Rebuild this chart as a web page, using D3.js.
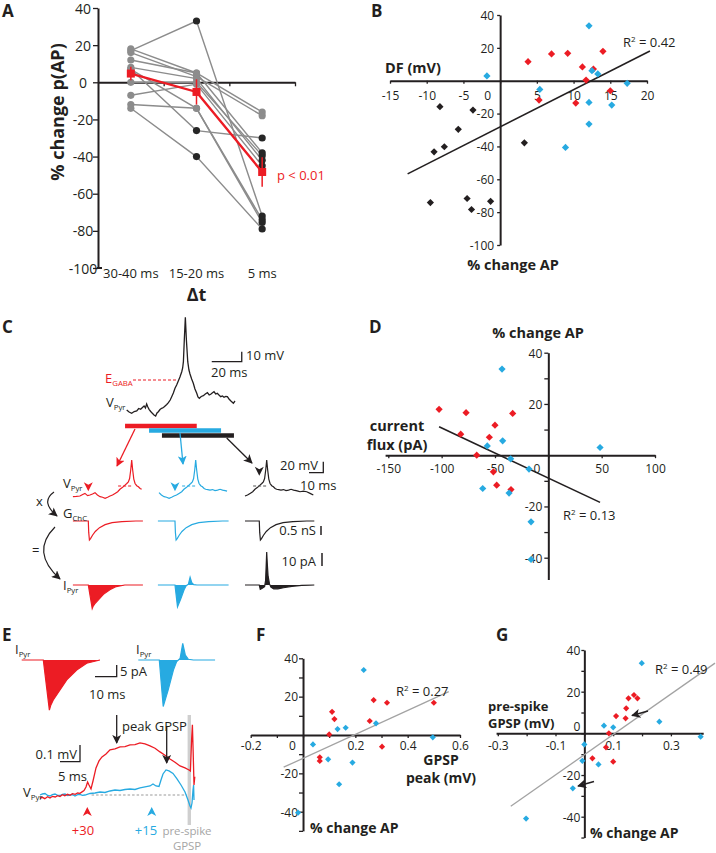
<!DOCTYPE html>
<html><head><meta charset="utf-8">
<script src="https://cdn.jsdelivr.net/npm/d3@7"></script>
<style>
body{margin:0;background:#fff;}
svg{font-family:"Open Sans",sans-serif;}
</style></head><body>
<svg id="fig" width="716" height="853"></svg>
<script>
const RED="#ec1c24", BLUE="#27aae1", INK="#231f20", GRAY="#8c8c8c";
const FONT='"Open Sans", sans-serif';

// ---------- Panel A data ----------
const aCategories=["30-40 ms","15-20 ms","5 ms"];
const aYTicks=[-100,-80,-60,-40,-20,0,20,40];
const aCells=[[17,33,-72],[18,5,-16],[16,3,-18],[12,5,-38],[8,2,-42],[7,-14,-74],[7,-26,-30],[0,0,-39.5],[-7,-1,-45],[-12,-14,-75.5],[-14,-40,-79]];
const aDark=[[0,1,1],[0,0,0],[0,0,0],[0,0,1],[0,0,1],[0,0,1],[0,1,1],[0,0,1],[0,0,1],[0,0,1],[0,1,1]];
const aMean=[4.7,-5.2,-48.3];
const aErr=[3.6,6.8,8];

// ---------- Panel B data (DF mV, % change AP) ----------
const bBlack=[[-8.2,-15.8],[-3.7,-17.9],[-5.7,-29.6],[-9,-43.3],[-7.6,-40.2],[3.3,-37.8],[-9.5,-74.2],[-4.5,-71.7],[-3.9,-78.4],[-1.3,-73.4]];
const bRed=[[3.8,11.6],[7,16.3],[9.2,16.7],[14,17.9],[11.2,8.4],[12.7,7.1],[11.7,0.4],[5.3,-11.8],[10.3,-13.6],[15,-6.1]];
const bBlue=[[-1.8,2.9],[12.1,33.4],[12.5,6.1],[13.3,4.1],[17.3,-1.6],[5.4,-5.3],[12.1,-13.2],[15.2,-14.8],[12.1,-26.4],[8.9,-40.6]];
const bFit=[[-12.6,-56.7],[20.4,18.1]];
const bXTicks=[-15,-10,-5,0,5,10,15,20], bYTicks=[-100,-80,-60,-40,-20,20,40];

// ---------- Panel D data (current flux pA, % change AP) ----------
const dRed=[[-102.4,17.9],[-77.1,16.6],[-33.4,16.3],[-50,11.7],[-82.1,8.2],[-55.3,7],[-67.1,0],[-51.5,-6.5],[-48.4,-11.7],[-35,-13.4]];
const dBlue=[[-43.4,33.6],[-57.2,3.6],[-42.8,5.6],[-35.3,-1.4],[-18.1,-5.4],[48.5,3],[-61.5,-13],[-36.8,-14.8],[-16.2,-26],[-16.2,-40.7]];
const dFit=[[-102.4,11.1],[48.5,-18.4]];
const dXTicks=[-150,-100,-50,0,50,100], dYTicks=[-40,-30,-20,-10,10,20,30,40];

// ---------- Panel F data (GPSP peak mV, % change AP) ----------
const fRed=[[0.111,12.1],[0.12,8.3],[0.1,0.3],[0.27,18.2],[0.321,16.8],[0.5,16.8],[0.255,7.3],[0.302,-6.1],[0.064,-11.6],[0.064,-13.5]];
const fBlue=[[0.232,33.9],[0.132,3.1],[0.163,3.8],[0.279,6.1],[0.496,-1.2],[0.038,-4.9],[0.096,-12.7],[0.189,-14.4],[0.138,-25.7],[-0.019,-40.5]];
const fFit=[[-0.074,-16.8],[0.557,22.6]];
const fXTicks=[-0.2,-0.1,0,0.1,0.2,0.3,0.4,0.5,0.6], fYTicks=[-50,-40,-30,-20,-10,10,20,30,40];

// ---------- Panel G data (pre-spike GPSP mV, % change AP) ----------
const gRed=[[0.153,16.8],[0.172,18.4],[0.184,16.8],[0.145,12],[0.143,7.2],[0.11,8.3],[0.085,0],[0.075,-6.7],[0.028,-12],[0.1,-13.6]];
const gBlue=[[0.199,33.7],[0.068,3.7],[0.1,2.9],[0.26,5.6],[0.403,-1.6],[0,-5.3],[-0.007,-13.2],[0.049,-14.9],[-0.04,-26.4],[-0.202,-40.9]];
const gFit=[[-0.255,-35],[0.453,33.7]];
const gXTicks=[-0.3,-0.2,-0.1,0,0.1,0.2,0.3,0.4], gYTicks=[-50,-40,-30,-20,-10,0,10,20,30,40];

// ---------- Panel C traces ----------
const cTopT=[0,1.6,3.3,5,6.7,8,9.3,10.5,11.6,12.5,13.3,14.1,14.9,16,17.1,18.2,19.3,20.2,21.1,22.2,23.3,24.5,25.6,26.7,27.8,29,30,31.1,32.2,33.3,34.4,35.5,36.7,37.3,37.8,38.4,39.1,39.8,40.7,41.5,42.2,43.3,44.4,45.5,46.7,47.5,48.4,49.7,51.1,52.4,53.8,55,56,57,58.2,59.3,60.4,61.5,62.7,63.8,64.9,66,67.1,68.2,69.3,70.2,71.1,72.2];
const cTopV=[0,-2,-3.3,-1.5,-1,1.5,0.7,2.5,4,2,6,3,0.7,-1.5,-3.3,-5,-6,-3,-1.7,0.5,1.7,2.5,4,5.5,7.3,10,13.3,17,21.7,25,29,33,38.3,42,48.3,70,92.7,70,48.3,40,36,31,26.7,21,16.7,13,11.7,13.5,14.3,16,17.3,15,15.7,17,18.3,16,16.7,15,13.3,14,12.7,13.5,13.3,11,9.3,8,6.7,9];
const cGabaV=30;
const cWindows=[{c:RED,t0:-1.1,t1:46.7},{c:BLUE,t0:14.9,t1:62.9},{c:INK,t0:23.5,t1:71.5}];
const cMini=[[-42,0],[-39.5,0.5],[-37,1.2],[-35,4],[-33.4,6],[-31.5,2],[-29.8,3],[-28,5],[-26.2,7.3],[-24.5,3],[-22.6,0],[-20.8,-1],[-19,-3],[-17.2,-1],[-15.5,1.2],[-13.7,3],[-11.9,6],[-10,9],[-8.4,13.5],[-6.5,17],[-4.8,21],[-3.5,24],[-2.4,27],[-1.5,33],[-0.7,48.5],[0,66.7],[0.7,48.5],[1.5,32],[2.4,24],[3.6,20],[4.8,18],[6,15],[7.1,13.5],[8.6,13],[10.2,12],[12,13],[13.8,11],[15.6,12],[17.4,13.5],[19.2,12],[21,11],[22.4,10],[23.8,9],[26.2,10],[28.6,9],[31,6],[33.3,3],[35,4]];
const cMiniWin=[{c:RED,t0:-42,t1:8,onset:-31},{c:BLUE,t0:-27,t1:23.5,onset:-14.8},{c:INK,t0:-15.5,t1:34,onset:-5.3}];
const cG=[[0,0],[0.3,-0.6],[0.8,-1],[1.6,-0.93],[3,-0.75],[5,-0.55],[8,-0.35],[12,-0.19],[17,-0.09],[24,-0.03],[34,0],[70,0]];
const iRed=[[0,0],[2.8,-21.4],[3.5,-19.2],[4.6,-17.1],[7.7,-12.8],[10.8,-8.5],[15.4,-4.3],[20,-1.4],[26.1,0]];
const iBlue=[[0,0],[1.8,-19.9],[4.1,-12.8],[6.5,-4.3],[8,-0.7],[9.6,0.7],[10.8,7.1],[12,2.1],[13.4,0.3],[15.7,0],[25.7,0]];
const iBlackC=[[-15.5,0],[-5.3,0],[-4.6,-4],[-3.2,-3],[-1.5,-1.5],[-0.8,4],[-0.3,20],[0,30],[0.4,20],[1,8],[2,1],[3,-2],[5,-3.5],[8,-3.5],[12,-2.5],[18,-1.2],[25,-0.4],[34,0]];

// ---------- Panel E traces (ms, µV) ----------
const eRedT=[0,0.6,1.2,1.9,2.5,3.1,3.8,4.4,5,5.6,6.2,6.9,7.5,8.1,8.8,9.4,10,10.6,11,11.5,11.9,12.25,12.75,13.25,14,14.75,15.5,16.5,17.5,18.75,20,21.25,22.5,23.75,25,26.25,27.5,28.75,30,31.25,32.5,33.75,35,36.25,37.25,37.6,37.9,38.1,38.3,38.5,38.7];
const eRedV=[-20,-14,-22,-10,-18,-8,-12,-4,-9,2,-4,4,-2,8,4,12,10,20,26,48,78,60,36,84,162,204,228,246,270,276,288,290,300,302,312,306,294,280,258,238,216,196,174,162,150,144,330,420,250,60,110];
const eBlueT=[0,0.6,1.25,1.9,2.5,3.1,3.75,4.4,5,5.6,6.25,6.9,7.5,8.1,8.75,9.4,10,10.6,11.25,12.5,13.75,15,16.25,17.5,18.75,20,21.25,22.5,23.75,25,26.25,27.5,28.25,29,29.75,30.25,30.75,31.5,32.25,33.25,34.25,35.25,36.25,37,37.5,37.75,38,38.25,38.4,38.5];
const eBlueV=[0,6,9,-3,-6,2,6,-2,-3,4,6,-4,0,3,-6,2,3,-2,0,9,12,18,15,24,30,27,33,36,33,42,48,54,66,54,51,90,126,150,144,129,96,60,18,-30,-66,-78,-48,30,60,-30];

const svg=d3.select("#fig");
function T(x,y,s,o={}){return svg.append("text").attr("x",x).attr("y",y)
  .attr("font-size",o.fs||13).attr("font-weight",o.fw||400).attr("fill",o.fill||INK)
  .attr("text-anchor",o.a||"start").text(s);}
function TM(x,y,lines,lh,o={}){const t=svg.append("text").attr("x",x).attr("y",y)
  .attr("font-size",o.fs||13).attr("font-weight",o.fw||400).attr("fill",o.fill||INK).attr("text-anchor",o.a||"start");
  lines.forEach((s,i)=>t.append("tspan").attr("x",x).attr("dy",i?lh:0).text(s)); return t;}
function TS(x,y,main,sub,o={}){const t=T(x,y,main,o);t.append("tspan").attr("font-size",(o.fs||13)*0.6).attr("dy",3).text(sub);return t;}
function R2(x,y,val){const t=T(x,y,"R",{fs:13});t.append("tspan").attr("font-size",8).attr("dy",-5).text("2");
  t.append("tspan").attr("dy",5).attr("font-size",13).text(" = "+val);}
function lbl(x,y,s){T(x,y,s,{fs:17,fw:700});}

const defs=svg.append("defs");
[["r",RED],["b",BLUE],["k",INK]].forEach(([id,c])=>{
  defs.append("marker").attr("id","ah-"+id).attr("viewBox","0 0 10 10").attr("refX",9).attr("refY",5)
   .attr("markerWidth",9).attr("markerHeight",9).attr("markerUnits","userSpaceOnUse").attr("orient","auto")
   .append("path").attr("d","M0,0 L10,5 L0,10 L2.5,5 Z").attr("fill",c);
});

function styleAxis(g,fs){
  g.attr("font-family",FONT).attr("font-size",fs);
  g.select(".domain").attr("stroke",INK).attr("stroke-width",2);
  g.selectAll(".tick line").attr("stroke",INK).attr("stroke-width",1.3);
  g.selectAll(".tick text").attr("fill",INK);
}
const fmt=d=>String(d);

// =============== PANEL A ===============
lbl(2,17,"A");
const xA=d3.scaleBand().domain(aCategories).range([98,295]);
const cxA=i=>xA(aCategories[i])+xA.bandwidth()/2;
const yA=d3.scaleLinear().domain([-100,40]).range([268,8]);
const gAy=svg.append("g").attr("transform","translate(98,0)")
  .call(d3.axisLeft(yA).tickValues(aYTicks).tickSize(5).tickSizeOuter(0).tickFormat(fmt));
styleAxis(gAy,14);
gAy.selectAll(".tick text").attr("text-anchor","middle").attr("x",-15).attr("dy","0.36em");
svg.append("line").attr("x1",97).attr("x2",102).attr("y1",268).attr("y2",268).attr("stroke",INK).attr("stroke-width",2);
const xAline=d3.scaleLinear().domain([0,aCategories.length]).range([98,295]);
const gA0=svg.append("g").attr("transform",`translate(0,${yA(0)})`)
  .call(d3.axisBottom(xAline).tickValues([1,2,3]).tickSize(4).tickSizeOuter(0).tickFormat(""));
styleAxis(gA0,12);
const gAx=svg.append("g").attr("transform","translate(0,268)")
  .call(d3.axisBottom(xA).tickSize(0));
gAx.select(".domain").remove();
gAx.attr("font-family",FONT).attr("font-size",13);
gAx.selectAll("text").attr("fill",INK).attr("y",9.5).attr("dy",0);
T(196.5,301,"Δt",{fs:18,fw:700,a:"middle"});
svg.append("text").attr("transform","translate(64,112) rotate(-90)").attr("text-anchor","middle")
  .attr("font-size",18).attr("font-weight",700).attr("fill",INK).text("% change p(AP)");
const lineA=d3.line().x((d,i)=>cxA(i)).y(d=>yA(d));
svg.append("g").selectAll("path").data(aCells).join("path").attr("d",lineA)
  .attr("fill","none").attr("stroke",GRAY).attr("stroke-width",1.4);
aCells.forEach((cell,ci)=>{
  svg.append("g").selectAll("circle").data(cell).join("circle")
    .attr("cx",(d,i)=>cxA(i)).attr("cy",d=>yA(d)).attr("r",3.6)
    .attr("fill",(d,i)=>aDark[ci][i]?"#262626":GRAY);
});
svg.append("path").datum(aMean).attr("d",lineA).attr("fill","none").attr("stroke",RED).attr("stroke-width",2.4);
svg.append("g").selectAll("line").data(aMean).join("line")
  .attr("x1",(d,i)=>cxA(i)).attr("x2",(d,i)=>cxA(i))
  .attr("y1",(d,i)=>yA(d+aErr[i])).attr("y2",(d,i)=>yA(d-aErr[i])).attr("stroke",RED).attr("stroke-width",1.5);
svg.append("g").selectAll("rect").data(aMean).join("rect")
  .attr("x",(d,i)=>cxA(i)-4).attr("y",d=>yA(d)-4).attr("width",8).attr("height",8).attr("fill",RED);
T(277,180,"p < 0.01",{fs:13,fill:RED});

// =============== scatter helper ===============
const diamond=(size)=>d3.symbol(d3.symbolSquare,size);
function scatter(o){
  const xs=o.x, ys=o.y;
  const xAx=xs.copy().domain(o.xExt).range(o.xExt.map(xs));
  const yAx=ys.copy().domain(o.yExt).range(o.yExt.map(ys));
  const gx=svg.append("g").attr("transform",`translate(0,${ys(0)})`)
    .call(d3.axisBottom(xAx).tickValues(o.xTicks).tickSize(o.xTickSize).tickSizeOuter(0)
      .tickFormat(d=>o.xLabels.includes(d)?fmt(d):""));
  styleAxis(gx,12);
  gx.selectAll(".tick text").attr("dy",0).attr("y",o.xLabelDy);
  gx.selectAll(".tick").filter(d=>d===0).select("text").attr("dx",o.zeroDx||0);
  const gy=svg.append("g").attr("transform",`translate(${xs(0)},0)`)
    .call(d3.axisLeft(yAx).tickValues(o.yTicks).tickSize(o.yTickSize).tickPadding(o.yPad).tickSizeOuter(0)
      .tickFormat(d=>o.yLabels.includes(d)?fmt(d):""));
  styleAxis(gy,12);
  gy.selectAll(".tick text").attr("dy","0.36em");
  gy.selectAll(".tick").filter(d=>d===0).select("text").attr("dy",o.zeroDy||"0.36em");
  svg.append("line").attr("x1",xs(o.fit[0][0])).attr("y1",ys(o.fit[0][1]))
    .attr("x2",xs(o.fit[1][0])).attr("y2",ys(o.fit[1][1])).attr("stroke",o.fitColor).attr("stroke-width",o.fitW);
  o.sets.forEach(([data,c])=>{
    svg.append("g").selectAll("path").data(data).join("path")
      .attr("d",diamond(o.sym)).attr("fill",c)
      .attr("transform",d=>`translate(${xs(d[0])},${ys(d[1])}) rotate(45)`);
  });
}

// =============== PANEL B ===============
lbl(371,17,"B");
scatter({x:d3.scaleLinear().domain([-15,20]).range([390,647]), y:d3.scaleLinear().domain([-100,40]).range([245,15]),
  xExt:[-15,20], yExt:[-100,40], xTicks:bXTicks, xLabels:bXTicks, xTickSize:3, xLabelDy:19, zeroDx:-13,
  yTicks:bYTicks, yLabels:bYTicks, yTickSize:3, yPad:3,
  fit:bFit, fitColor:INK, fitW:1.6, sym:26, sets:[[bBlack,INK],[bRed,RED],[bBlue,BLUE]]});
T(385,73,"DF (mV)",{fs:14.5,fw:700});
T(513,270,"% change AP",{fs:14.5,fw:700,a:"middle"});
R2(623,47,"0.42");

// =============== PANEL D ===============
lbl(369,333,"D");
scatter({x:d3.scaleLinear().domain([-150,100]).range([388.3,655]), y:d3.scaleLinear().domain([-40,40]).range([557.7,352.7]),
  xExt:[-153,100], yExt:[-48.5,40], xTicks:dXTicks, xLabels:dXTicks, xTickSize:3, xLabelDy:17.5, zeroDx:-12,
  yTicks:dYTicks, yLabels:[-40,-20,20,40], yTickSize:4, yPad:2,
  fit:dFit, fitColor:INK, fitW:1.6, sym:26, sets:[[dRed,RED],[dBlue,BLUE]]});
T(538,338,"% change AP",{fs:14.5,fw:700,a:"middle"});
TM(397,431,["current","flux (pA)"],19,{fs:14.5,fw:700,a:"middle"});
R2(563,520,"0.13");

// =============== PANEL F ===============
lbl(256,641,"F");
scatter({x:d3.scaleLinear().domain([-0.2,0.6]).range([250.7,460]), y:d3.scaleLinear().domain([-40,40]).range([811.7,658.3]),
  xExt:[-0.2,0.6], yExt:[-50,40], xTicks:fXTicks, xLabels:[-0.2,0,0.2,0.4,0.6], xTickSize:3, xLabelDy:14.5, zeroDx:-11,
  yTicks:fYTicks, yLabels:[-40,-20,20,40], yTickSize:4, yPad:1,
  fit:fFit, fitColor:"#a3a3a3", fitW:1.3, sym:19, sets:[[fRed,RED],[fBlue,BLUE]]});
TM(441,765,["GPSP","peak (mV)"],18,{fs:14,fw:700,a:"middle"});
T(310,833,"% change AP",{fs:14,fw:700});
R2(396,696,"0.27");

// =============== PANEL G ===============
lbl(496,641,"G");
scatter({x:d3.scaleLinear().domain([-0.3,0.3]).range([497.8,670.9]), y:d3.scaleLinear().domain([-40,40]).range([816.7,650]),
  xExt:[-0.306,0.412], yExt:[-50,40], xTicks:gXTicks, xLabels:[-0.3,-0.1,0.1,0.3], xTickSize:3, xLabelDy:16.5,
  yTicks:gYTicks, yLabels:[-40,-20,0,20,40], yTickSize:3, yPad:1, zeroDy:"-0.2em",
  fit:gFit, fitColor:"#a3a3a3", fitW:1.3, sym:19, sets:[[gRed,RED],[gBlue,BLUE]]});
TM(488,710.5,["pre-spike","GPSP (mV)"],17,{fs:13,fw:700});
T(590,838,"% change AP",{fs:14,fw:700});
R2(655,674,"0.49");
svg.append("line").attr("x1",648).attr("y1",711).attr("x2",632).attr("y2",715.5).attr("stroke",INK).attr("stroke-width",1.3).attr("marker-end","url(#ah-k)");
svg.append("line").attr("x1",594).attr("y1",781.5).attr("x2",578).attr("y2",786).attr("stroke",INK).attr("stroke-width",1.3).attr("marker-end","url(#ah-k)");

// =============== PANEL C ===============
lbl(2,333,"C");
const xTop=d3.scaleLinear().domain([0,20]).range([126.7,156.7]);
const yTop=d3.scaleLinear().domain([0,10]).range([410,400]);
svg.append("path").datum(cTopT.map((t,i)=>[t,cTopV[i]]))
  .attr("d",d3.line().x(d=>xTop(d[0])).y(d=>yTop(d[1]))).attr("fill","none").attr("stroke",INK).attr("stroke-width",1.3);
svg.append("line").attr("x1",xTop(4.2)).attr("x2",xTop(34)).attr("y1",yTop(cGabaV)).attr("y2",yTop(cGabaV))
  .attr("stroke",RED).attr("stroke-width",1.2).attr("stroke-dasharray","3,2");
TS(105,383,"E","GABA",{fs:13,fill:RED});
TS(106,407,"V","Pyr",{fs:13});
svg.append("path").attr("d",`M${xTop(56.7)},361.7 H${xTop(76.7)} V${361.7-10}`).attr("fill","none").attr("stroke",INK).attr("stroke-width",1.3);
T(246,360,"10 mV",{fs:13}); T(211,377,"20 ms",{fs:13});
const barY=[426,430.5,435.5];
svg.append("g").selectAll("line").data(cWindows).join("line")
  .attr("x1",d=>xTop(d.t0)).attr("x2",d=>xTop(d.t1)).attr("y1",(d,i)=>barY[i]).attr("y2",(d,i)=>barY[i])
  .attr("stroke",d=>d.c).attr("stroke-width",4.5);
svg.append("line").attr("x1",135).attr("y1",429).attr("x2",117).attr("y2",466).attr("stroke",RED).attr("stroke-width",1.3).attr("marker-end","url(#ah-r)");
svg.append("line").attr("x1",180).attr("y1",433).attr("x2",183).attr("y2",464).attr("stroke",BLUE).attr("stroke-width",1.3).attr("marker-end","url(#ah-b)");
svg.append("line").attr("x1",226.7).attr("y1",438).attr("x2",252).attr("y2",463).attr("stroke",INK).attr("stroke-width",1.3).attr("marker-end","url(#ah-k)");

const spikeX=[131.7,195.7,266.7];
const iShapes=[iRed,iBlue,null];
cMiniWin.forEach((w,k)=>{
  const xs=d3.scaleLinear().domain([0,10]).range([spikeX[k],spikeX[k]+14]);
  const yv=d3.scaleLinear().domain([0,20]).range([496.7,485.7]);
  const vData=cMini.filter(d=>d[0]>=w.t0&&d[0]<=w.t1);
  svg.append("path").datum(vData).attr("d",d3.line().x(d=>xs(d[0])).y(d=>yv(d[1])))
    .attr("fill","none").attr("stroke",w.c).attr("stroke-width",1.2);
  svg.append("line").attr("x1",xs(-9.7)).attr("x2",xs(0.8)).attr("y1",486).attr("y2",486)
    .attr("stroke",k===2?"#555":w.c).attr("stroke-width",1.1).attr("stroke-dasharray","3,2");
  const yg=d3.scaleLinear().domain([0,1]).range([521,540]);
  const gData=[[w.t0,0]].concat(cG.map(d=>[d[0]+w.onset,d[1]]).filter(d=>d[0]<=w.t1));
  gData.push([w.t1,0]);
  svg.append("path").datum(gData).attr("d",d3.line().x(d=>xs(d[0])).y(d=>yg(-d[1])))
    .attr("fill","none").attr("stroke",w.c).attr("stroke-width",1.2);
  const yi=d3.scaleLinear().domain([0,10]).range([585,574]);
  let iData;
  if(iShapes[k]) iData=[[w.t0,0]].concat(iShapes[k].map(d=>[d[0]+w.onset,d[1]])).concat([[w.t1,0]]);
  else iData=iBlackC;
  const ar=d3.area().x(d=>xs(d[0])).y0(yi(0)).y1(d=>yi(d[1]));
  svg.append("path").datum(iData).attr("d",ar).attr("fill",w.c);
  svg.append("path").datum(iData).attr("d",d3.line().x(d=>xs(d[0])).y(d=>yi(d[1])))
    .attr("fill","none").attr("stroke",w.c).attr("stroke-width",1.2);
  const ax=xs(w.onset), ay=k===2?472.7:488.3;
  svg.append("path").attr("d",`M${ax-4.5},${ay-6} L${ax},${ay-3.5} L${ax+4.5},${ay-6} L${ax},${ay+3} Z`).attr("fill",w.c);
});
TS(63,488,"V","Pyr",{fs:13});
TS(63,518,"G","ChC",{fs:13});
TS(63,590,"I","Pyr",{fs:13});
T(36,506,"x",{fs:13}); T(32,555,"=",{fs:13});
svg.append("path").attr("d","M54,492 Q40,502 57,516").attr("fill","none").attr("stroke",INK).attr("stroke-width",1.2).attr("marker-end","url(#ah-k)");
svg.append("path").attr("d","M55,527 Q30,552 60,579").attr("fill","none").attr("stroke",INK).attr("stroke-width",1.2).attr("marker-end","url(#ah-k)");
svg.append("path").attr("d","M309,472.7 H323.3 V461.7").attr("fill","none").attr("stroke",INK).attr("stroke-width",1.3);
T(318,470,"20 mV",{fs:13,a:"end"}); T(300,490,"10 ms",{fs:13});
T(316,535,"0.5 nS",{fs:13,a:"end"});
svg.append("line").attr("x1",321).attr("x2",321).attr("y1",526).attr("y2",535).attr("stroke",INK).attr("stroke-width",1.5);
T(316,566,"10 pA",{fs:13,a:"end"});
svg.append("line").attr("x1",322).attr("x2",322).attr("y1",553).attr("y2",566).attr("stroke",INK).attr("stroke-width",1.5);

// =============== PANEL E ===============
lbl(2,641,"E");
const yEi=d3.scaleLinear().domain([0,5]).range([660,648.3]);
[[iRed,RED,43.3,21.7,100],[iBlue,BLUE,159.3,138.3,215]].forEach(([shape,c,on,xa,xb])=>{
  const xs=d3.scaleLinear().domain([0,10]).range([on,on+21.7]);
  const data=[[xs.invert(xa),0]].concat(shape).concat([[xs.invert(xb),0]]);
  svg.append("path").datum(data).attr("d",d3.area().x(d=>xs(d[0])).y0(yEi(0)).y1(d=>yEi(d[1]))).attr("fill",c);
  svg.append("path").datum(data).attr("d",d3.line().x(d=>xs(d[0])).y(d=>yEi(d[1]))).attr("fill","none").attr("stroke",c).attr("stroke-width",1.2);
});
TS(15,654,"I","Pyr",{fs:13}); TS(136,654,"I","Pyr",{fs:13});
svg.append("path").attr("d","M95,676.7 H116.7 V665").attr("fill","none").attr("stroke",INK).attr("stroke-width",1.3);
T(120,676,"5 pA",{fs:13}); T(89,699,"10 ms",{fs:13});
const xEv=d3.scaleLinear().domain([0,10]).range([40,80]);
const yEv=d3.scaleLinear().domain([0,100]).range([795,778.3]);
svg.append("rect").attr("x",187.6).attr("y",715).attr("width",3.4).attr("height",110).attr("fill","#cfcfcf");
svg.append("line").attr("x1",xEv(12.9)).attr("x2",xEv(36.7)).attr("y1",yEv(0)).attr("y2",yEv(0))
  .attr("stroke","#999").attr("stroke-width",1).attr("stroke-dasharray","2.5,2");
svg.append("path").datum(eBlueT.map((t,i)=>[t,eBlueV[i]])).attr("d",d3.line().x(d=>xEv(d[0])).y(d=>yEv(d[1])))
  .attr("fill","none").attr("stroke",BLUE).attr("stroke-width",1.3);
svg.append("path").datum(eRedT.map((t,i)=>[t,eRedV[i]])).attr("d",d3.line().x(d=>xEv(d[0])).y(d=>yEv(d[1])))
  .attr("fill","none").attr("stroke",RED).attr("stroke-width",1.3);
TS(23,797,"V","Pyr",{fs:13});
svg.append("path").attr("d","M60,761.7 H80 V745").attr("fill","none").attr("stroke",INK).attr("stroke-width",1.3);
T(77,759,"0.1 mV",{fs:13,a:"end"}); T(58,781,"5 ms",{fs:13});
T(122,731,"peak GPSP",{fs:13});
svg.append("line").attr("x1",116.7).attr("x2",116.7).attr("y1",715).attr("y2",743).attr("stroke",INK).attr("stroke-width",1.3).attr("marker-end","url(#ah-k)");
svg.append("line").attr("x1",166.7).attr("x2",166.7).attr("y1",727).attr("y2",763).attr("stroke",INK).attr("stroke-width",1.3).attr("marker-end","url(#ah-k)");
[[87.3,RED],[151.7,BLUE]].forEach(([x,c])=>{
  svg.append("path").attr("d",`M${x-4.5},${816} L${x},${813.5} L${x+4.5},${816} L${x},${807} Z`).attr("fill",c);
});
T(83,835,"+30",{fs:13,fill:RED,a:"middle"});
T(146,835,"+15",{fs:13,fill:BLUE,a:"middle"});
TM(187,834.5,["pre-spike","GPSP"],15,{fs:11.5,fill:"#a6a6a6",a:"middle"}).attr("letter-spacing",-0.1);
</script></body></html>
